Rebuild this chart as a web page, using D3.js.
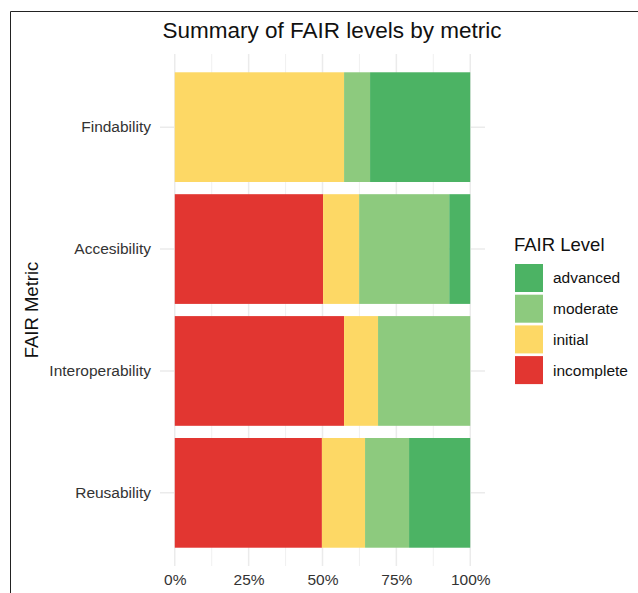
<!DOCTYPE html>
<html>
<head>
<meta charset="utf-8">
<script src="https://cdn.jsdelivr.net/npm/d3@7"></script>
<style>
  body { margin: 0; background: #fff; font-family: "Liberation Sans", Arial, sans-serif; }
</style>
</head>
<body>
<div id="chart-container"></div>
<script>
const metrics = ["Findability", "Accesibility", "Interoperability", "Reusability"];
const levels = ["incomplete", "initial", "moderate", "advanced"];
const levelColors = ["#e23631", "#fdd865", "#8dca7e", "#4cb364"];
// share of each level per metric, in percent
const incomplete = [0, 50.2, 57.3, 49.8];
const initial = [57.3, 12.2, 11.5, 14.6];
const moderate = [8.8, 30.5, 31.2, 14.9];
const advanced = [33.9, 7.1, 0, 20.7];
const xTicks = [0, 25, 50, 75, 100];

let rows = metrics.map((m, i) => ({
  metric: m,
  incomplete: incomplete[i],
  initial: initial[i],
  moderate: moderate[i],
  advanced: advanced[i]
}));

let fullWidth = 638, fullHeight = 593;
let margin = {top: 54, right: 153, bottom: 27, left: 160};
let width = fullWidth - margin.left - margin.right,
  height = fullHeight - margin.top - margin.bottom;

let svg = d3.select("#chart-container").append("svg")
  .attr("width", fullWidth)
  .attr("height", fullHeight);

// partial frame around the figure
svg.append("line")
  .attr("x1", 10.5).attr("x2", fullWidth).attr("y1", 11.5).attr("y2", 11.5)
  .attr("stroke", "#222").attr("stroke-width", 1);
svg.append("line")
  .attr("x1", 10.5).attr("x2", 10.5).attr("y1", 11.5).attr("y2", fullHeight)
  .attr("stroke", "#222").attr("stroke-width", 1);

let canvas = svg.append("g")
  .attr("transform", `translate(${margin.left}, ${margin.top})`);

let xScale = d3.scaleLinear()
  .domain([-5, 105])
  .range([0, width]);

let yScale = d3.scaleBand()
  .domain(metrics)
  .range([0, height])
  .paddingInner(0.1)
  .paddingOuter(0.15);

// grid: minor and major verticals, horizontals at category centres
let minor = [12.5, 37.5, 62.5, 87.5];
canvas.selectAll(".minor-grid")
  .data(minor)
  .enter().append("line")
    .attr("x1", d => xScale(d)).attr("x2", d => xScale(d))
    .attr("y1", 0).attr("y2", height)
    .attr("stroke", "#f0f0f0").attr("stroke-width", 1);

canvas.selectAll(".major-grid")
  .data(xTicks)
  .enter().append("line")
    .attr("x1", d => xScale(d)).attr("x2", d => xScale(d))
    .attr("y1", 0).attr("y2", height)
    .attr("stroke", "#ebebeb").attr("stroke-width", 1.5);

canvas.selectAll(".y-grid")
  .data(metrics)
  .enter().append("line")
    .attr("x1", 0).attr("x2", width)
    .attr("y1", d => yScale(d) + yScale.bandwidth() / 2)
    .attr("y2", d => yScale(d) + yScale.bandwidth() / 2)
    .attr("stroke", "#ebebeb").attr("stroke-width", 1.5);

let stack = d3.stack().keys(levels);
let series = stack(rows);

let color = d3.scaleOrdinal().domain(levels).range(levelColors);

canvas.selectAll(".layer")
  .data(series)
  .enter().append("g")
    .attr("fill", d => color(d.key))
  .selectAll("rect")
  .data(d => d)
  .enter().append("rect")
    .attr("x", d => xScale(d[0]))
    .attr("y", d => yScale(d.data.metric))
    .attr("width", d => xScale(d[1]) - xScale(d[0]))
    .attr("height", yScale.bandwidth());

let xAxis = canvas.append("g")
  .attr("transform", `translate(0, ${height})`)
  .call(d3.axisBottom(xScale).tickValues(xTicks).tickFormat(d => d + "%").tickSize(0).tickPadding(8));
xAxis.select(".domain").remove();
xAxis.selectAll("text")
  .attr("font-family", "Liberation Sans, Arial, sans-serif")
  .attr("font-size", 15.5)
  .attr("fill", "#333");

let yAxis = canvas.append("g")
  .call(d3.axisLeft(yScale).tickSize(0).tickPadding(9));
yAxis.select(".domain").remove();
yAxis.selectAll("text")
  .attr("font-family", "Liberation Sans, Arial, sans-serif")
  .attr("font-size", 15.5)
  .attr("fill", "#333");

// axis title
svg.append("text")
  .attr("transform", `translate(38, ${margin.top + height / 2}) rotate(-90)`)
  .attr("text-anchor", "middle")
  .attr("font-size", 18.5)
  .attr("fill", "#111")
  .text("FAIR Metric");

// title
svg.append("text")
  .attr("x", 332)
  .attr("y", 38)
  .attr("text-anchor", "middle")
  .attr("font-size", 22.5)
  .attr("fill", "#111")
  .text("Summary of FAIR levels by metric");

// legend
let legend = svg.append("g")
  .attr("transform", "translate(515, 0)");

legend.append("text")
  .attr("x", -1)
  .attr("y", 251)
  .attr("font-size", 18.5)
  .attr("fill", "#111")
  .text("FAIR Level");

let legendLevels = levels.slice().reverse();
let legendItems = legend.selectAll(".legend-item")
  .data(legendLevels)
  .enter().append("g")
    .attr("transform", (d, i) => `translate(0, ${264 + i * 30.7})`);

legendItems.append("rect")
  .attr("width", 28)
  .attr("height", 28)
  .attr("fill", d => color(d));

legendItems.append("text")
  .attr("x", 38)
  .attr("y", 14)
  .attr("dy", "0.35em")
  .attr("font-size", 15.5)
  .attr("fill", "#111")
  .text(d => d);
</script>
</body>
</html>
